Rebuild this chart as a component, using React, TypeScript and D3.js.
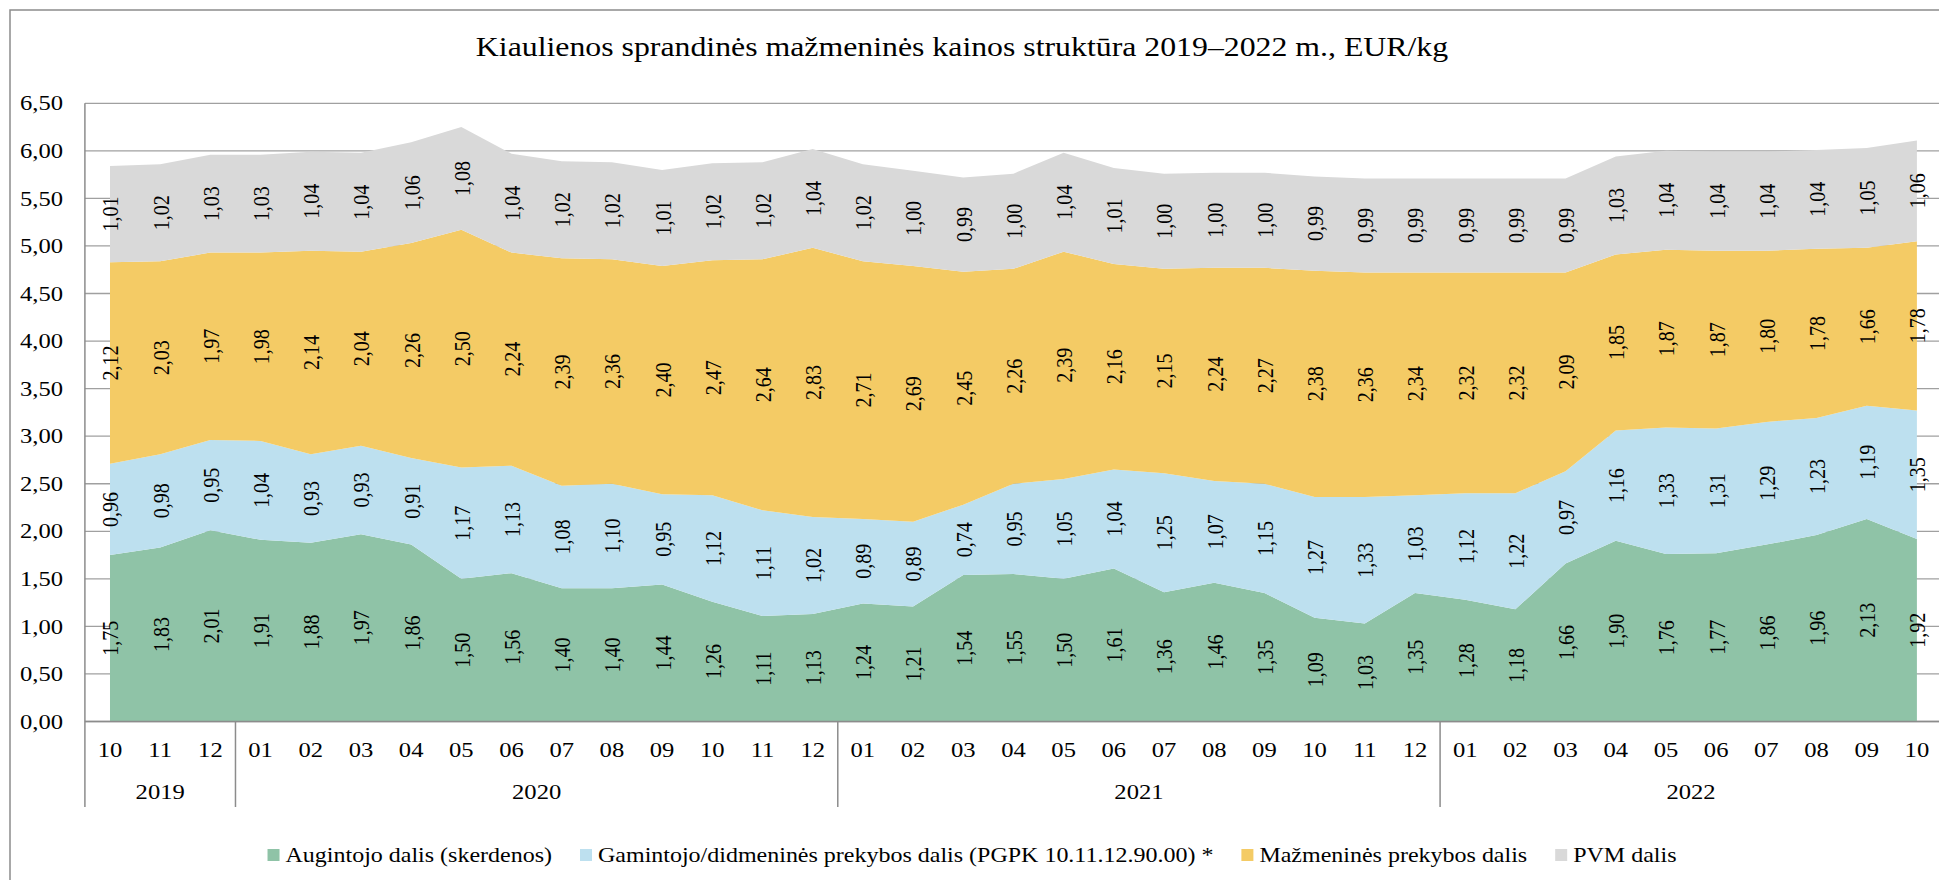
import React, { useEffect, useRef } from "react";
import * as d3 from "d3";

const title = "Kiaulienos sprandinės mažmeninės kainos struktūra 2019–2022 m., EUR/kg";

const monthLabels = [
  "10", "11", "12",
  "01", "02", "03", "04", "05", "06", "07", "08", "09", "10", "11", "12",
  "01", "02", "03", "04", "05", "06", "07", "08", "09", "10", "11", "12",
  "01", "02", "03", "04", "05", "06", "07", "08", "09", "10",
];
const yearLabels = ["2019", "2020", "2021", "2022"];
const yearCounts = [3, 12, 12, 10];

const augintojo = [
  1.75, 1.83, 2.01,
  1.91, 1.88, 1.97, 1.86, 1.5, 1.56, 1.4, 1.4, 1.44, 1.26, 1.11, 1.13,
  1.24, 1.21, 1.54, 1.55, 1.5, 1.61, 1.36, 1.46, 1.35, 1.09, 1.03, 1.35,
  1.28, 1.18, 1.66, 1.9, 1.76, 1.77, 1.86, 1.96, 2.13, 1.92,
];
const gamintojo = [
  0.96, 0.98, 0.95,
  1.04, 0.93, 0.93, 0.91, 1.17, 1.13, 1.08, 1.1, 0.95, 1.12, 1.11, 1.02,
  0.89, 0.89, 0.74, 0.95, 1.05, 1.04, 1.25, 1.07, 1.15, 1.27, 1.33, 1.03,
  1.12, 1.22, 0.97, 1.16, 1.33, 1.31, 1.29, 1.23, 1.19, 1.35,
];
const mazmenines = [
  2.12, 2.03, 1.97,
  1.98, 2.14, 2.04, 2.26, 2.5, 2.24, 2.39, 2.36, 2.4, 2.47, 2.64, 2.83,
  2.71, 2.69, 2.45, 2.26, 2.39, 2.16, 2.15, 2.24, 2.27, 2.38, 2.36, 2.34,
  2.32, 2.32, 2.09, 1.85, 1.87, 1.87, 1.8, 1.78, 1.66, 1.78,
];
const pvm = [
  1.01, 1.02, 1.03,
  1.03, 1.04, 1.04, 1.06, 1.08, 1.04, 1.02, 1.02, 1.01, 1.02, 1.02, 1.04,
  1.02, 1.0, 0.99, 1.0, 1.04, 1.01, 1.0, 1.0, 1.0, 0.99, 0.99, 0.99,
  0.99, 0.99, 0.99, 1.03, 1.04, 1.04, 1.04, 1.04, 1.05, 1.06,
];

const seriesNames = [
  "Augintojo dalis (skerdenos)",
  "Gamintojo/didmeninės prekybos dalis (PGPK 10.11.12.90.00) *",
  "Mažmeninės prekybos dalis",
  "PVM dalis",
];
const seriesColors = ["#8fc3a7", "#bde0ef", "#f4cb65", "#d9d9d9"];
const yTicks = [0, 0.5, 1, 1.5, 2, 2.5, 3, 3.5, 4, 4.5, 5, 5.5, 6, 6.5];

const W = 1939;
const H = 880;
const SX = 1.2;
const FONT = "'Liberation Serif', 'Times New Roman', serif";

export default function App() {
  const ref = useRef<SVGSVGElement | null>(null);

  useEffect(() => {
    const svg = d3.select(ref.current);
    svg.selectAll("*").remove();

    const n = monthLabels.length;
    const plotLeft = 84.9;
    const plotRight = 1942;
    const step = (plotRight - plotLeft) / n;
    const x = d3
      .scaleLinear()
      .domain([0, n - 1])
      .range([plotLeft + step / 2, plotRight - step / 2]);
    const y = d3.scaleLinear().domain([0, 6.5]).range([721.5, 103.3]);

    const fmt = (v: number) => d3.format(".2f")(v).replace(".", ",");

    const text = (
      g: any,
      tx: number,
      ty: number,
      s: string,
      size: number,
      anchor: string,
      rot = 0
    ) =>
      g
        .append("text")
        .attr(
          "transform",
          `translate(${tx},${ty}) scale(${SX},1)` + (rot ? ` rotate(${rot})` : "")
        )
        .attr("text-anchor", anchor)
        .attr("dy", "0.35em")
        .attr("font-family", FONT)
        .attr("font-size", size)
        .attr("fill", "#000")
        .text(s);

    // frame
    svg
      .append("rect")
      .attr("x", 10)
      .attr("y", 10)
      .attr("width", W + 20)
      .attr("height", H + 20)
      .attr("fill", "#fff")
      .attr("stroke", "#8c8c8c")
      .attr("stroke-width", 1.5);

    // title
    text(svg, 962, 47, title, 26.5, "middle");

    // gridlines
    const grid = svg.append("g");
    yTicks.forEach((t) => {
      grid
        .append("line")
        .attr("x1", plotLeft)
        .attr("x2", W + 5)
        .attr("y1", y(t))
        .attr("y2", y(t))
        .attr("stroke", "#a0a0a0")
        .attr("stroke-width", 1.3);
    });

    // stacked areas
    const rows = monthLabels.map((_, i) => ({
      i,
      a: augintojo[i],
      b: gamintojo[i],
      c: mazmenines[i],
      d: pvm[i],
    }));
    const keys = ["a", "b", "c", "d"];
    const stacked = d3.stack<any>().keys(keys)(rows);
    const area = d3
      .area<any>()
      .x((d) => x(d.data.i))
      .y0((d) => y(d[0]))
      .y1((d) => y(d[1]));
    svg
      .append("g")
      .selectAll("path")
      .data(stacked)
      .join("path")
      .attr("d", (s: any) => area(s) as string)
      .attr("fill", (_: any, k: number) => seriesColors[k]);

    // axes lines
    svg
      .append("line")
      .attr("x1", plotLeft)
      .attr("x2", W + 5)
      .attr("y1", y(0))
      .attr("y2", y(0))
      .attr("stroke", "#8c8c8c")
      .attr("stroke-width", 1.5);
    svg
      .append("line")
      .attr("x1", plotLeft)
      .attr("x2", plotLeft)
      .attr("y1", y(6.5))
      .attr("y2", 807)
      .attr("stroke", "#8c8c8c")
      .attr("stroke-width", 1.5);

    // year separators
    let acc = 0;
    yearCounts.forEach((c, k) => {
      const start = acc;
      acc += c;
      const bx = plotLeft + acc * step;
      if (bx < W) {
        svg
          .append("line")
          .attr("x1", bx)
          .attr("x2", bx)
          .attr("y1", y(0))
          .attr("y2", 807)
          .attr("stroke", "#8c8c8c")
          .attr("stroke-width", 1.5);
      }
      const cx = plotLeft + ((start + acc) / 2) * step;
      text(svg, cx, 792, yearLabels[k], 20.5, "middle");
    });

    // y tick labels
    yTicks.forEach((t) => text(svg, 63, y(t), fmt(t), 20.5, "end"));

    // x tick labels
    monthLabels.forEach((m, i) => text(svg, x(i), 750, m, 20.5, "middle"));

    // data labels
    const labels = svg.append("g");
    stacked.forEach((s: any) => {
      s.forEach((d: any) => {
        const v = d[1] - d[0];
        text(labels, x(d.data.i), y((d[0] + d[1]) / 2), fmt(v), 20, "middle", -90);
      });
    });

    // legend
    const leg = svg.append("g");
    const widths: number[] = [];
    const tmp = seriesNames.map((nm) => {
      const t = text(leg, 0, 855, nm, 20, "start");
      widths.push((t.node() as SVGTextElement).getComputedTextLength() * SX);
      return t;
    });
    const sq = 12;
    const gapSq = 6;
    const gapItem = 28;
    const total =
      widths.reduce((a, b) => a + b, 0) +
      seriesNames.length * (sq + gapSq) +
      (seriesNames.length - 1) * gapItem;
    let lx = 972 - total / 2;
    seriesNames.forEach((_, k) => {
      leg
        .append("rect")
        .attr("x", lx)
        .attr("y", 855 - sq / 2)
        .attr("width", sq)
        .attr("height", sq)
        .attr("fill", seriesColors[k]);
      tmp[k].attr("transform", `translate(${lx + sq + gapSq},855) scale(${SX},1)`);
      lx += sq + gapSq + widths[k] + gapItem;
    });
  }, []);

  return (
    <div style={{ position: "absolute", left: 0, top: 0, width: W, height: H, overflow: "hidden" }}>
      <svg ref={ref} width={W} height={H} style={{ display: "block" }} />
    </div>
  );
}
